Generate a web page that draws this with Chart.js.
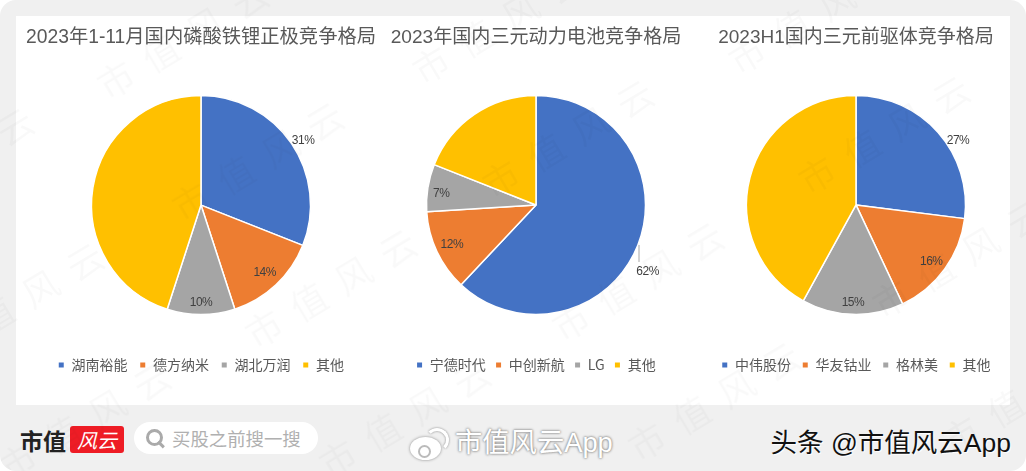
<!DOCTYPE html>
<html>
<head>
<meta charset="utf-8">
<script src="https://cdn.jsdelivr.net/npm/chart.js@4"></script>
<style>
    html, body { margin: 0; padding: 0; background: #fff; }
    #page { position: relative; width: 1026px; height: 471px; overflow: hidden; background: #f0f0f0; border-radius: 16px; font-family: "Noto Sans CJK SC", sans-serif; }
    #card { position: absolute; left: 16px; top: 16px; width: 994px; height: 389px; background: #fff; }
    .box { position: absolute; top: 16px; height: 389px; }
    .mark { position: absolute; font-size: 36px; line-height: 36px; letter-spacing: 16px; color: rgba(0, 0, 0, 0.024); transform: rotate(-31deg); transform-origin: 18px 18px; white-space: nowrap; pointer-events: none; }
    #logo { position: absolute; left: 20px; top: 424px; font-size: 23px; font-weight: 700; line-height: 32px; color: #222; }
    #logoRed { position: absolute; left: 70px; top: 426px; width: 54px; height: 27px; background: #ee1c25; border-radius: 3px; color: #fff; font-size: 20px; line-height: 27px; text-align: center; font-style: italic; }
    #search { position: absolute; left: 134px; top: 422px; width: 184px; height: 32px; border-radius: 16px; background: #fff; color: #b0b0b0; font-size: 18.4px; line-height: 32px; text-indent: 38px; }
    #lens { position: absolute; left: 146px; top: 429px; width: 11px; height: 11px; border: 3px solid #aaa; border-radius: 50%; }
    #lensTail { position: absolute; left: 157px; top: 443px; width: 8px; height: 3px; background: #aaa; transform: rotate(45deg); }
    #weibo { position: absolute; left: 455px; top: 425px; font-family: "Liberation Sans", "Noto Sans CJK SC"; font-size: 27.3px; line-height: 36px; color: #fff; text-shadow: 0 0 3px #888, 0 0 2px #888; }
    #wbBody { position: absolute; left: 410px; top: 437px; width: 31px; height: 23px; background: #fff; border-radius: 50%; box-shadow: 0 0 3px #888; }
    #wbEye { position: absolute; left: 418px; top: 445px; width: 9px; height: 9px; border: 2px solid #bbb; border-radius: 50%; }
    #wbArc { position: absolute; left: 425px; top: 428px; width: 18px; height: 18px; border: 3px solid #fff; border-left-color: transparent; border-bottom-color: transparent; border-radius: 50%; filter: drop-shadow(0 0 1px #888); }
    #toutiao { position: absolute; right: 15px; top: 425px; font-family: "Liberation Sans", "Noto Sans CJK SC"; font-size: 26.5px; line-height: 36px; color: #111; text-shadow: 1px 1px 1px #fff; }
</style>
</head>
<body>
<div id="page">
    <div id="card"></div>
    <div class="box" style="left:16px;width:370px"><canvas id="chart1"></canvas></div>
    <div class="box" style="left:386px;width:300px"><canvas id="chart2"></canvas></div>
    <div class="box" style="left:686px;width:340px"><canvas id="chart3"></canvas></div>
    <div id="logo">市值</div>
    <div id="logoRed">风云</div>
    <div id="search">买股之前搜一搜</div>
    <div id="lens"></div>
    <div id="lensTail"></div>
    <div id="wbBody"></div>
    <div id="wbEye"></div>
    <div id="wbArc"></div>
    <div id="weibo">市值风云App</div>
    <div id="toutiao">头条 @市值风云App</div>
</div>
<script>
    const colors = ['#4472c4', '#ed7d31', '#a5a5a5', '#ffc000'];

    const titles = ['2023年1-11月国内磷酸铁锂正极竞争格局', '2023年国内三元动力电池竞争格局', '2023H1国内三元前驱体竞争格局'];

    const labels1 = ['湖南裕能', '德方纳米', '湖北万润', '其他'];
    const labels2 = ['宁德时代', '中创新航', 'LG', '其他'];
    const labels3 = ['中伟股份', '华友钴业', '格林美', '其他'];

    const values1 = [31, 14, 10, 45];
    const values2 = [62, 12, 7, 19];
    const values3 = [27, 16, 15, 42];

    // where the first glyph of each watermark sits
    const markSpots = [
        [115, 78], [430, 63], [746, 53], [-120, 205], [190, 200], [500, 177], [816, 173],
        [263, 327], [570, 320], [890, 297], [-50, 340], [17, 460], [337, 457], [646, 440], [960, 433]
    ];

    const page = document.querySelector('#page');
    markSpots.forEach(spot => {
        const mark = document.createElement('div');
        mark.className = 'mark';
        mark.textContent = '市值风云';
        mark.style.left = (spot[0] - 18) + 'px';
        mark.style.top = (spot[1] - 18) + 'px';
        page.appendChild(mark);
    });

    // percent labels next to the slices, the last slice has none
    const sliceLabels = {
        id: 'sliceLabels',
        afterDatasetsDraw(chart, args, opts) {
            const ctx = chart.ctx;
            const arcs = chart.getDatasetMeta(0).data;
            ctx.save();
            ctx.font = '12px "Liberation Sans"';
            ctx.letterSpacing = '-0.5px';
            ctx.fillStyle = '#404040';
            ctx.textAlign = 'center';
            ctx.textBaseline = 'middle';
            arcs.forEach((arc, i) => {
                if (!opts.radii[i]) return;
                const mid = (arc.startAngle + arc.endAngle) / 2;
                const shift = opts.shifts[i] || [0, 0];
                const x = arc.x + Math.cos(mid) * opts.radii[i] + shift[0];
                const y = arc.y + Math.sin(mid) * opts.radii[i] + shift[1];
                ctx.fillText(chart.data.datasets[0].data[i] + '%', x, y);
            });
            if (opts.leader) {
                const arc = arcs[0];
                ctx.strokeStyle = '#a6a6a6';
                ctx.lineWidth = 1;
                ctx.beginPath();
                ctx.moveTo(arc.x + opts.leader[0], arc.y + opts.leader[1]);
                ctx.lineTo(arc.x + opts.leader[0], arc.y + opts.leader[2]);
                ctx.stroke();
            }
            ctx.restore();
        }
    };

    function makePie(id, title, titleSize, labels, values, gap, labelOpts) {
        return new Chart(document.getElementById(id), {
            type: 'pie',
            plugins: [sliceLabels],
            data: {
                labels: labels,
                datasets: [{
                    data: values,
                    backgroundColor: colors,
                    borderColor: '#fff',
                    borderWidth: 1.5,
                    radius: 109.5
                }]
            },
            options: {
                responsive: true,
                maintainAspectRatio: false,
                animation: false,
                layout: { padding: { bottom: 23 } },
                plugins: {
                    title: {
                        display: true,
                        text: title,
                        color: '#595959',
                        font: { family: '"Liberation Sans", "Noto Sans CJK SC"', size: titleSize, weight: 'normal' },
                        padding: { top: 10, bottom: gap + 3 }
                    },
                    legend: {
                        position: 'bottom',
                        labels: {
                            usePointStyle: true,
                            pointStyle: 'rect',
                            boxWidth: 6.5,
                            boxHeight: 6.5,
                            padding: gap,
                            color: '#595959',
                            font: { family: '"Noto Sans CJK SC"', size: 14 }
                        }
                    },
                    tooltip: { enabled: false },
                    sliceLabels: labelOpts
                }
            }
        });
    }

    makePie('chart1', titles[0], 19.3, labels1, values1, 12, { radii: [121, 93, 98, 0], shifts: [[2, 4]] });
    makePie('chart2', titles[1], 19.1, labels2, values2, 9.5, { radii: [120, 93, 96, 0], shifts: [[0, 23], [0, 0], [0, 4]], leader: [103, 40, 57] });
    makePie('chart3', titles[2], 19, labels3, values3, 11, { radii: [120, 93, 98, 0], shifts: [[12, 15], [0, 2]] });
</script>
</body>
</html>
